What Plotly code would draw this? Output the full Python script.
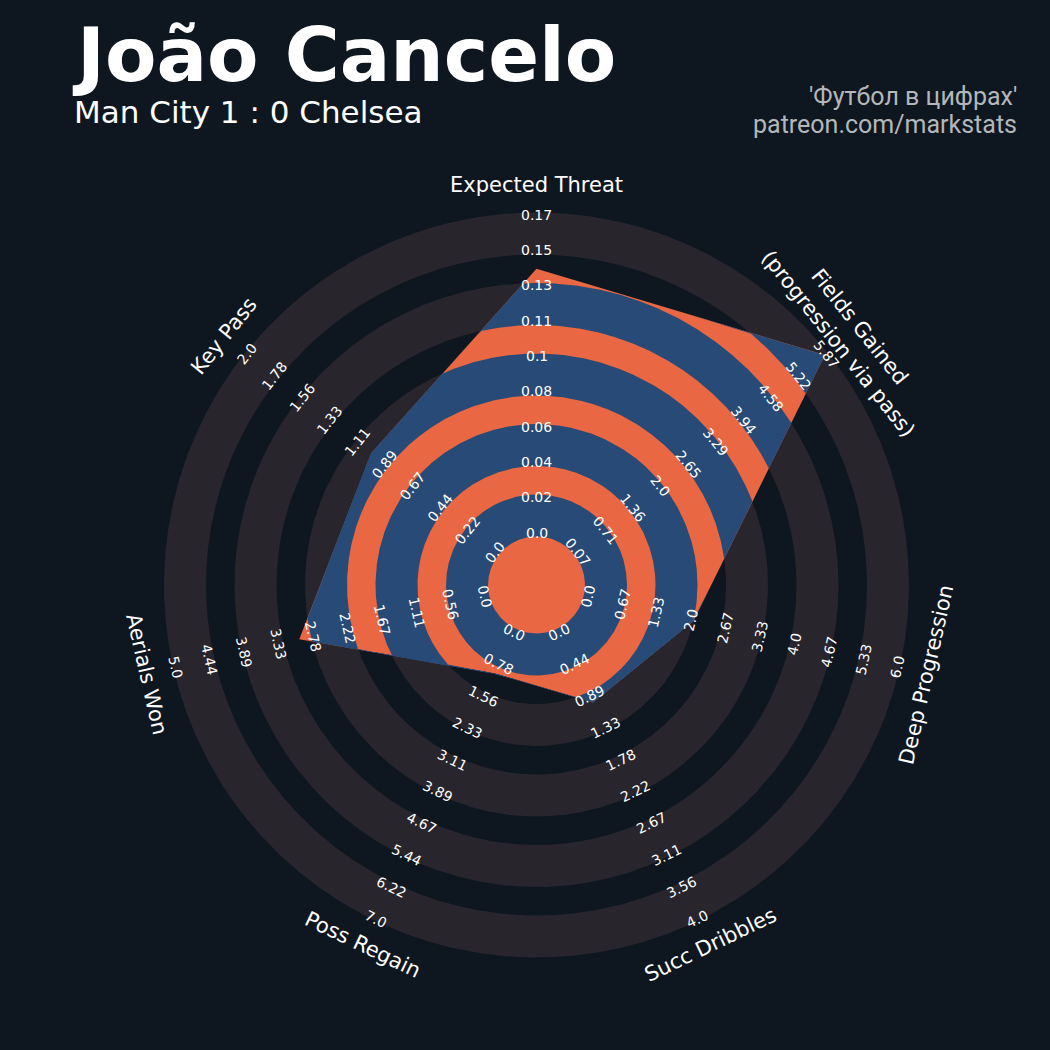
import numpy as np
import plotly.graph_objects as go

# ---------------- data ----------------
params = ["Expected Threat", "Fields Gained<br>(progression via pass)", "Deep Progression",
          "Succ Dribbles", "Poss Regain", "Aerials Won", "Key Pass"]
low = [0.0, 0.07, 0.0, 0.0, 0.0, 0.0, 0.0]
high = [0.17, 5.87, 6.0, 4.0, 7.0, 5.0, 2.0]
values = [0.141, 5.84, 2.05, 0.98, 1.0, 3.0, 1.0]

ticks_xt = ["0.0", "0.02", "0.04", "0.06", "0.08", "0.1", "0.11", "0.13", "0.15", "0.17"]
ticks_fg = ["0.07", "0.71", "1.36", "2.0", "2.65", "3.29", "3.94", "4.58", "5.22", "5.87"]
ticks_dp = ["0.0", "0.67", "1.33", "2.0", "2.67", "3.33", "4.0", "4.67", "5.33", "6.0"]
ticks_sd = ["0.0", "0.44", "0.89", "1.33", "1.78", "2.22", "2.67", "3.11", "3.56", "4.0"]
ticks_pr = ["0.0", "0.78", "1.56", "2.33", "3.11", "3.89", "4.67", "5.44", "6.22", "7.0"]
ticks_aw = ["0.0", "0.56", "1.11", "1.67", "2.22", "2.78", "3.33", "3.89", "4.44", "5.0"]
ticks_kp = ["0.0", "0.22", "0.44", "0.67", "0.89", "1.11", "1.33", "1.56", "1.78", "2.0"]
tick_lists = [ticks_xt, ticks_fg, ticks_dp, ticks_sd, ticks_pr, ticks_aw, ticks_kp]

title = "João Cancelo"
subtitle = "Man City 1 : 0 Chelsea"
credit1 = "'Футбол в цифрах'"
credit2 = "patreon.com/markstats"

# ---------------- style / geometry ----------------
W = H = 1050
CX, CY = 536.5, 585.0          # radar centre (px)
R0, R9 = 52.5, 370.5           # radius of min / max value
RING_START, RING_PERIOD, RING_W, N_RINGS = 48.5, 70.5, 42.0, 5
LABEL_R = 400
BG = "#0e171f"
GREY = "#28252c"
ORANGE = "#e96742"
BLUE = "#274b76"
FONT = "DejaVu Sans"

n = len(params)
ang = np.deg2rad(90 - 360.0 / n * np.arange(n))


def to_r(v, lo, hi):
    return R0 + (v - lo) / (hi - lo) * (R9 - R0)


vr = np.array([to_r(v, lo, hi) for v, lo, hi in zip(values, low, high)])
vx = vr * np.cos(ang)
vy = vr * np.sin(ang)


def cross(ax_, ay_, bx_, by_):
    return ax_ * by_ - ay_ * bx_


def poly_r(theta):
    ux, uy = np.cos(theta), np.sin(theta)
    best = np.full(theta.shape, np.inf)
    for i in range(n):
        px, py = vx[i], vy[i]
        qx, qy = vx[(i + 1) % n], vy[(i + 1) % n]
        dx, dy = qx - px, qy - py
        den = cross(ux, uy, dx, dy)
        with np.errstate(divide="ignore", invalid="ignore"):
            r = cross(px, py, dx, dy) / den
            s = cross(ux, uy, px, py) / cross(dx, dy, ux, uy)
        ok = (s >= -1e-9) & (s <= 1 + 1e-9) & (r > 0) & np.isfinite(r)
        best = np.where(ok & (r < best), r, best)
    return best


theta = np.linspace(0, 2 * np.pi, 2881)
theta = np.unique(np.concatenate([theta, np.mod(ang, 2 * np.pi)]))
theta = np.concatenate([theta, [theta[0] + 2 * np.pi]])
rp = poly_r(np.mod(theta, 2 * np.pi))

fig = go.Figure()


def add_band(r_out, r_in, color):
    xs = np.concatenate([r_out * np.cos(theta), (r_in * np.cos(theta))[::-1]])
    ys = np.concatenate([r_out * np.sin(theta), (r_in * np.sin(theta))[::-1]])
    fig.add_trace(go.Scatter(x=xs, y=ys, mode="lines", fill="toself", fillcolor=color,
                             line=dict(width=0, color=color), hoverinfo="skip",
                             showlegend=False))


rings = [(RING_START + k * RING_PERIOD, RING_START + k * RING_PERIOD + RING_W) for k in range(N_RINGS)]
ones = np.ones_like(theta)
for a, b in rings:
    add_band(b * ones, a * ones, GREY)

# radar polygon
fig.add_trace(go.Scatter(x=np.append(vx, vx[0]), y=np.append(vy, vy[0]), mode="lines",
                         fill="toself", fillcolor=ORANGE, line=dict(width=0, color=ORANGE),
                         hoverinfo="skip", showlegend=False))

# rings clipped to the polygon
for a, b in rings:
    add_band(np.minimum(b, rp), np.minimum(a, rp), BLUE)


def rot_ccw(a_deg):
    r = a_deg - 90
    r = (r + 180) % 360 - 180
    if r > 90 or r < -90:
        r = (r + 360) % 360 - 180
    return r


annotations = []
for i in range(n):
    a_deg = np.rad2deg(ang[i])
    rot = rot_ccw(a_deg)
    for k, lab in enumerate(tick_lists[i]):
        r = R0 + k * (R9 - R0) / 9
        annotations.append(dict(x=r * np.cos(ang[i]), y=r * np.sin(ang[i]), xref="x", yref="y",
                                text=lab, showarrow=False, textangle=-rot,
                                xanchor="center", yanchor="middle",
                                font=dict(family=FONT, size=14, color="white")))
    annotations.append(dict(x=LABEL_R * np.cos(ang[i]), y=LABEL_R * np.sin(ang[i]), xref="x", yref="y",
                            text=params[i], showarrow=False, textangle=-rot,
                            xanchor="center", yanchor="middle",
                            font=dict(family=FONT, size=21, color="white")))

annotations += [
    dict(x=70 / W, y=1 - 55 / H, xref="paper", yref="paper", text="<b>" + title + "</b>",
         showarrow=False, xanchor="left", yanchor="middle",
         font=dict(family=FONT, size=75, color="white")),
    dict(x=72 / W, y=1 - 112 / H, xref="paper", yref="paper", text=subtitle,
         showarrow=False, xanchor="left", yanchor="middle",
         font=dict(family=FONT, size=31, color="white")),
    dict(x=1019 / W, y=1 - 97 / H, xref="paper", yref="paper", text=credit1,
         showarrow=False, xanchor="right", yanchor="middle",
         font=dict(family="Roboto", size=25, color="#b4b7ba")),
    dict(x=1019 / W, y=1 - 124 / H, xref="paper", yref="paper", text=credit2,
         showarrow=False, xanchor="right", yanchor="middle",
         font=dict(family="Roboto", size=25, color="#b4b7ba")),
]

fig.update_layout(
    width=W, height=H, autosize=False,
    margin=dict(l=0, r=0, t=0, b=0),
    paper_bgcolor=BG, plot_bgcolor=BG,
    xaxis=dict(range=[-CX, W - CX], visible=False, fixedrange=True),
    yaxis=dict(range=[-(H - CY), CY], visible=False, fixedrange=True),
    annotations=annotations,
    showlegend=False,
)

fig.write_html("out.html", config={"displayModeBar": False},
               post_script="document.body.style.margin='0';document.body.style.overflow='hidden';")
